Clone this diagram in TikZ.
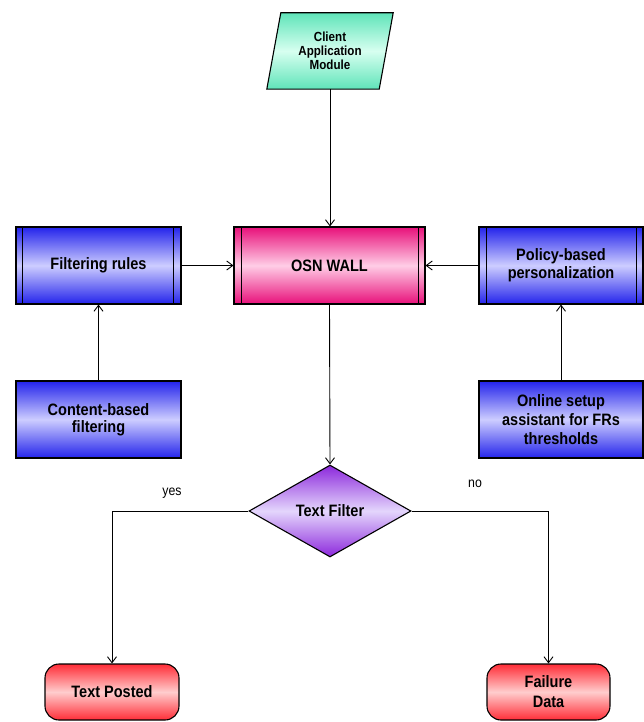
\documentclass[tikz,border=0pt]{standalone}
\usepackage{fontspec}
\setmainfont{Liberation Sans}
\newfontfamily\boxfont{Liberation Sans}[FakeStretch=0.88]
\usetikzlibrary{shapes.geometric,arrows.meta,calc}
\definecolor{mintE}{RGB}{95,228,185}
\definecolor{mintM}{RGB}{215,255,240}
\definecolor{pinkE}{RGB}{232,16,122}
\definecolor{pinkM}{RGB}{255,205,230}
\definecolor{blueE}{RGB}{35,35,235}
\definecolor{blueM}{RGB}{205,205,255}
\definecolor{purpE}{RGB}{140,40,220}
\definecolor{purpM}{RGB}{228,214,252}
\definecolor{redE}{RGB}{255,45,55}
\definecolor{redM}{RGB}{255,205,205}
\tikzset{
  txt/.style={font=\boxfont\fontsize{16.5}{18}\selectfont\bfseries, align=center, inner sep=0pt},
  procbox/.style={txt, draw=black, line width=1.1pt, minimum width=165pt, minimum height=77pt},
  bluebox/.style={procbox, top color=blueE, bottom color=blueE, middle color=blueM},
  pinkbox/.style={procbox, top color=pinkE, bottom color=pinkE, middle color=pinkM, minimum width=191pt},
  termbox/.style={txt, draw=black, line width=1.1pt, rounded corners=14pt, minimum height=56pt,
    top color=redE, bottom color=redE, middle color=redM},
  decision/.style={txt, diamond, aspect=1.76, draw=black, line width=1.1pt, minimum width=162pt, minimum height=92pt,
    top color=purpE, bottom color=purpE, middle color=purpM},
  conn/.style={line width=0.9pt, -{Straight Barb[length=6pt,width=9pt]}},
  lbl/.style={font=\boxfont\fontsize{14}{15}\selectfont, inner sep=0pt},
  bar/.style={line width=1.1pt}
}
\begin{document}
\begin{tikzpicture}[x=1pt,y=-1pt]
\useasboundingbox (0,0) rectangle (644,722);

% Client Application Module (parallelogram)
\node[txt, font=\boxfont\fontsize{13.2}{14}\selectfont\bfseries, minimum width=112pt, minimum height=76pt] (client) at (330,51) {};
\path[draw=black, line width=1.1pt, top color=mintE, bottom color=mintE, middle color=mintM]
  ([xshift=7pt]client.north west) -- ([xshift=7pt]client.north east)
  -- ([xshift=-7pt]client.south east) -- ([xshift=-7pt]client.south west) -- cycle;
\node[txt, font=\boxfont\fontsize{13.2}{14}\selectfont\bfseries] (clienttext) at (client.center) {Client\\Application\\Module};

% OSN WALL
\node[pinkbox] (osn) at (329.5,265.5) {OSN WALL};
\draw[bar] ([xshift=8pt]osn.north west) -- ([xshift=8pt]osn.south west);
\draw[bar] ([xshift=-7pt]osn.north east) -- ([xshift=-7pt]osn.south east);

% Filtering rules
\node[bluebox] (fr) at (98.5,265.5) {Filtering rules};
\draw[bar] ([xshift=7pt]fr.north west) -- ([xshift=7pt]fr.south west);
\draw[bar] ([xshift=-8pt]fr.north east) -- ([xshift=-8pt]fr.south east);

% Policy-based personalization
\node[bluebox, minimum width=164pt] (pol) at (561,265.5) {Policy-based\\personalization};
\draw[bar] ([xshift=8pt]pol.north west) -- ([xshift=8pt]pol.south west);
\draw[bar] ([xshift=-7pt]pol.north east) -- ([xshift=-7pt]pol.south east);

% Content-based filtering
\node[bluebox, font=\boxfont\fontsize{16.5}{17}\selectfont\bfseries] (cb) at (98.5,419.5) {Content-based\\filtering};

% Online setup assistant
\node[bluebox, minimum width=164pt, font=\boxfont\fontsize{16.5}{19}\selectfont\bfseries] (os) at (561,419.5) {Online setup\\assistant for FRs\\thresholds};

% Text Filter diamond
\node[decision] (tf) at (330,511) {Text Filter};

% Terminals
\node[termbox, minimum width=134pt] (tp) at (112,692) {Text Posted};
\node[termbox, minimum width=123pt, font=\boxfont\fontsize{16.5}{20}\selectfont\bfseries] (fd) at (548.5,692) {Failure\\Data};

% Connectors
\draw[conn] (client.south) -- (client.south |- osn.north);
\draw[conn] (fr.east) -- (osn.west);
\draw[conn] (pol.west) -- (osn.east);
\draw[conn] (cb.north) -- (fr.south);
\draw[conn] (os.north) -- (pol.south);
\draw[conn] (osn.south) -- (tf.north);
\draw[conn] (tf.west) -| (tp.north);
\draw[conn] (tf.east) -| (fd.north);

% Labels
\node[lbl] (yes) at (172,493) {yes};
\node[lbl] (no) at (475,484) {no};
\end{tikzpicture}
\end{document}
